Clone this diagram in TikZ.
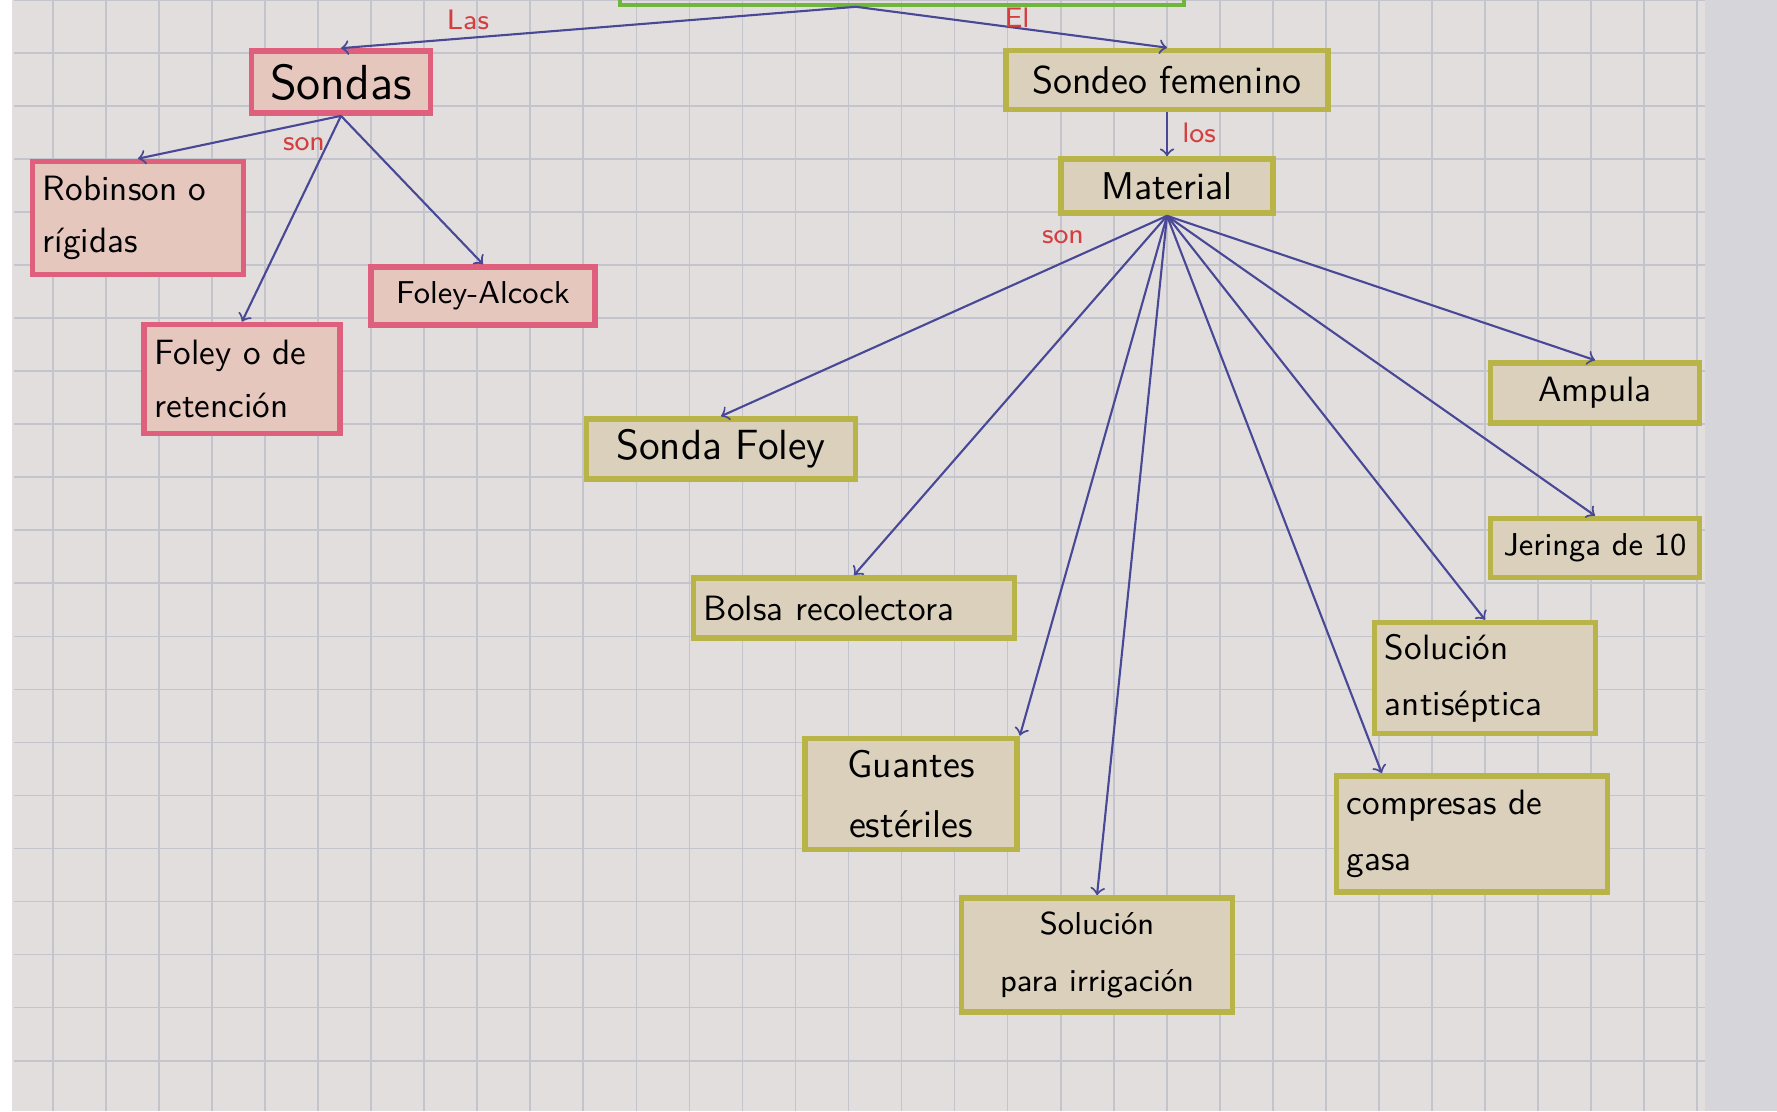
\documentclass[tikz,border=0pt]{standalone}
\usetikzlibrary{arrows}

\definecolor{papel}{RGB}{225,222,221}
\definecolor{margen}{RGB}{214,213,218}
\definecolor{cuadro}{RGB}{196,196,205}
\definecolor{rosa}{RGB}{222,96,124}
\definecolor{rosafondo}{RGB}{229,199,190}
\definecolor{oliva}{RGB}{184,180,72}
\definecolor{olivafondo}{RGB}{218,208,188}
\definecolor{tinta}{RGB}{72,72,150}
\definecolor{rojo}{RGB}{212,62,62}
\definecolor{verde}{RGB}{112,182,62}

\tikzset{
  cajarosa/.style={draw=rosa, fill=rosafondo, line width=1.6pt, inner sep=3pt, font=\sffamily},
  cajaoliva/.style={draw=oliva, fill=olivafondo, line width=1.6pt, inner sep=3pt, font=\sffamily},
  enlace/.style={text=rojo, font=\sffamily\footnotesize},
}

\begin{document}
\begin{tikzpicture}[>=to, x=0.01cm, y=-0.01cm]

\useasboundingbox (0,0) rectangle (1777,1111);
\fill[papel] (0,0) rectangle (1777,1111);
\fill[margen] (1705,0) rectangle (1777,1111);
\fill[white] (0,0) rectangle (12,1111);
\draw[cuadro, line width=0.5pt, step=0.53cm] (14,0) grid (1705,1111);

\node[draw=verde, line width=1pt, minimum width=5.64cm, minimum height=0.9cm] (raiz) at (902,-40) {};
\coordinate (r) at ([xshift=-0.46cm]raiz.south);

\node[cajarosa, minimum width=1.79cm, minimum height=0.62cm, font=\sffamily\fontsize{14}{16}\selectfont] (sondas) at (341,82) {Sondas};
\node[cajaoliva, minimum width=3.22cm, minimum height=0.59cm, font=\sffamily\fontsize{11}{13}\selectfont] (femenino) at (1167,80) {Sondeo femenino};
\node[cajaoliva, minimum width=2.12cm, minimum height=0.54cm, font=\sffamily\fontsize{11}{13}\selectfont] (material) at (1167,186) {Material};

\node[cajarosa, minimum width=2.05cm, minimum height=1.13cm, text width=1.9cm, align=left] (robinson) at (138,218) {Robinson o\\[3pt]rígidas};
\node[cajarosa, minimum width=2.24cm, minimum height=0.58cm, font=\sffamily\small] (alcock) at (483,296) {Foley-Alcock};
\node[cajarosa, minimum width=1.90cm, minimum height=1.09cm, text width=1.75cm, align=left] (retencion) at (242,379) {Foley o de\\[3pt]retención};

\node[cajaoliva, minimum width=2.69cm, minimum height=0.60cm, font=\sffamily\fontsize{12}{14}\selectfont] (sfoley) at (721,449) {Sonda Foley};
\node[cajaoliva, minimum width=3.20cm, minimum height=0.60cm, text width=3.0cm, align=left] (bolsa) at (854,608) {Bolsa recolectora};
\node[cajaoliva, minimum width=2.09cm, minimum height=0.60cm] (ampula) at (1595,393) {Ampula};
\node[cajaoliva, minimum width=2.09cm, minimum height=0.59cm, font=\sffamily\small] (jeringa) at (1595,548) {Jeringa de 10};
\node[cajaoliva, minimum width=2.16cm, minimum height=1.11cm, text width=2.0cm, align=left] (antis) at (1485,678) {Solución\\[4pt]antiséptica};
\node[cajaoliva, minimum width=2.12cm, minimum height=1.11cm, align=center, font=\sffamily\fontsize{11}{13}\selectfont] (guantes) at (911,794) {Guantes\\[4pt]estériles};
\node[cajaoliva, minimum width=2.64cm, minimum height=1.16cm, text width=2.5cm, align=left] (compresas) at (1472,834) {compresas de\\[4pt]gasa};
\node[cajaoliva, minimum width=2.71cm, minimum height=1.14cm, align=center, font=\sffamily\small] (irrig) at (1097,955) {Solución\\[5pt]para irrigación};

\draw[->, tinta, semithick] (r) -- (sondas.north);
\draw[->, tinta, semithick] (r) -- (femenino.north);
\draw[->, tinta, semithick] (femenino) -- (material);

\foreach \n in {robinson, retencion, alcock}
\draw[->, tinta, semithick] (sondas.south) -- (\n.north);

\foreach \n/\a in {sfoley/north, bolsa/north, guantes/north east, irrig/north, compresas/146, antis/north, jeringa/north, ampula/north}
\draw[->, tinta, semithick] (material.south) -- (\n.\a);

\node[enlace] (las) at (468,20) {Las};
\node[enlace] (el) at (1017,18) {El};
\node[enlace] (son1) at (304,144) {son};
\node[enlace] (los) at (1199,133) {los};
\node[enlace] (son2) at (1063,237) {son};

\end{tikzpicture}
\end{document}
